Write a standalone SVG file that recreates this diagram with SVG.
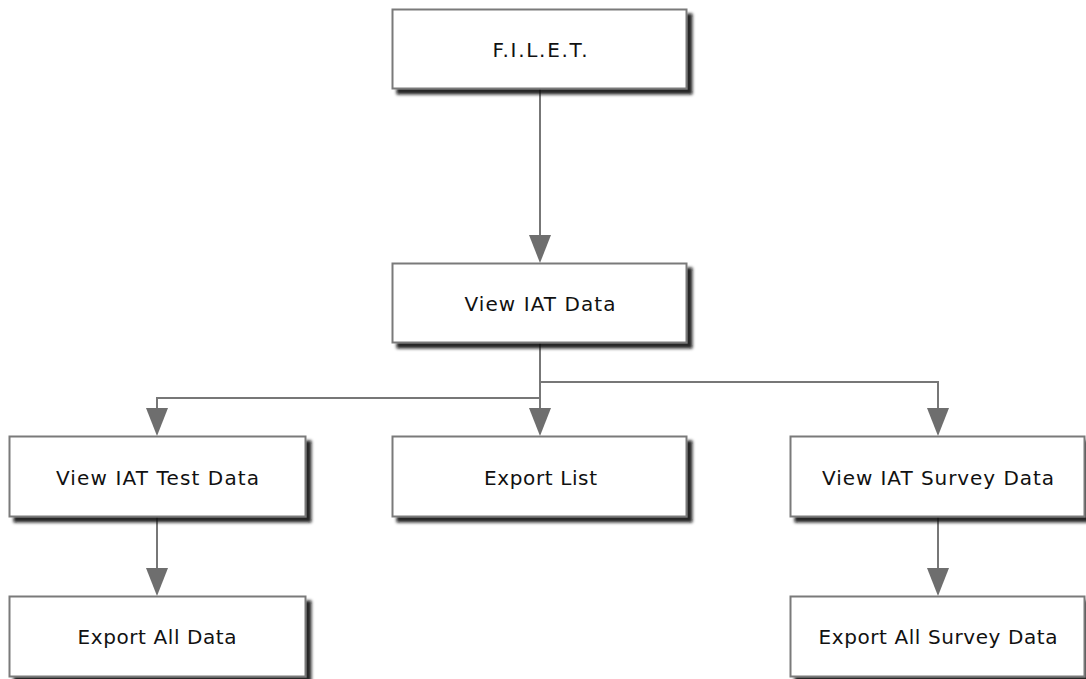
<svg xmlns="http://www.w3.org/2000/svg" width="1086" height="679" viewBox="0 0 1086 679">
  <defs>
    <filter id="shadow" x="-10%" y="-20%" width="130%" height="150%">
      <feDropShadow dx="5" dy="5" stdDeviation="1.8" flood-color="#111" flood-opacity="0.9"/>
    </filter>
    <style>
      .box { fill: #ffffff; stroke: #7a7a7a; stroke-width: 2; filter: url(#shadow); }
      .label { font-family: "DejaVu Sans", Verdana, sans-serif; font-size: 20px; fill: #111; text-anchor: middle; }
      .edge { fill: none; stroke: #777777; stroke-width: 2; }
      .head { fill: #6e6e6e; }
    </style>
  </defs>
  <rect width="1086" height="679" fill="#ffffff"/>

  <g id="connectors">
    <path class="edge" d="M540,89 V235"/>
    <path class="head" d="M529,235 L551,235 L540,263 Z"/>
    <path class="edge" d="M540,343 V408"/>
    <path class="head" d="M529,408 L551,408 L540,436 Z"/>
    <path class="edge" d="M540,398 H157 V408"/>
    <path class="head" d="M146,408 L168,408 L157,436 Z"/>
    <path class="edge" d="M540,382 H938 V408"/>
    <path class="head" d="M927,408 L949,408 L938,436 Z"/>
    <path class="edge" d="M157,517 V568"/>
    <path class="head" d="M146,568 L168,568 L157,596 Z"/>
    <path class="edge" d="M938,517 V568"/>
    <path class="head" d="M927,568 L949,568 L938,596 Z"/>
  </g>

  <g id="filet">
    <rect class="box" x="392.5" y="9.5" width="294" height="79"/>
    <text class="label" x="540" y="57" textLength="95" lengthAdjust="spacing">F.I.L.E.T.</text>
  </g>
  <g id="view-iat-data">
    <rect class="box" x="392.5" y="263.5" width="294" height="79"/>
    <text class="label" x="540" y="311" textLength="151" lengthAdjust="spacing">View IAT Data</text>
  </g>
  <g id="view-iat-test-data">
    <rect class="box" x="9.5" y="436.5" width="296" height="80"/>
    <text class="label" x="157.5" y="485" textLength="203" lengthAdjust="spacing">View IAT Test Data</text>
  </g>
  <g id="export-list">
    <rect class="box" x="392.5" y="436.5" width="294" height="80"/>
    <text class="label" x="540.5" y="485" textLength="113" lengthAdjust="spacing">Export List</text>
  </g>
  <g id="view-iat-survey-data">
    <rect class="box" x="790.5" y="436.5" width="294" height="80"/>
    <text class="label" x="938" y="485" textLength="232" lengthAdjust="spacing">View IAT Survey Data</text>
  </g>
  <g id="export-all-data">
    <rect class="box" x="9.5" y="596.5" width="296" height="80"/>
    <text class="label" x="157" y="644" textLength="159" lengthAdjust="spacing">Export All Data</text>
  </g>
  <g id="export-all-survey-data">
    <rect class="box" x="790.5" y="596.5" width="294" height="80"/>
    <text class="label" x="938" y="644" textLength="239" lengthAdjust="spacing">Export All Survey Data</text>
  </g>
</svg>
